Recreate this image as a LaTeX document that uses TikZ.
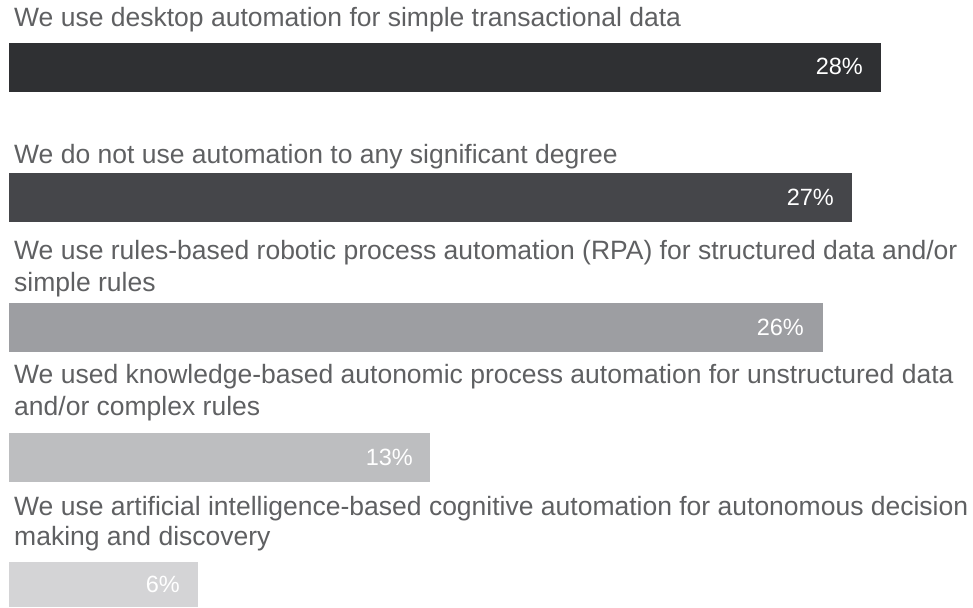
\documentclass[tikz,border=0pt]{standalone}
\usepackage{fontspec}
\setmainfont{Liberation Sans}
\definecolor{labelgray}{HTML}{5F6062}
\definecolor{barA}{HTML}{2F3033}
\definecolor{barB}{HTML}{45464A}
\definecolor{barC}{HTML}{9D9EA2}
\definecolor{barD}{HTML}{BDBEC0}
\definecolor{barE}{HTML}{D4D4D6}
\begin{document}
\begin{tikzpicture}[x=1pt,y=-1pt,
  caption/.style={anchor=base west,inner sep=0pt,text=labelgray,font=\fontsize{26.5}{32}\selectfont},
  pct/.style={anchor=base east,inner sep=0pt,text=white,font=\fontsize{23.5}{28}\selectfont}]
\useasboundingbox (0,0) rectangle (973,607);

% bar 1
\node[caption] (t1) at (14,27) {We use desktop automation for simple transactional data};
\fill[barA] (9,43) rectangle (881,92);
\node[pct] (p1) at (863,75) {28\%};

% bar 2
\node[caption] (t2) at (14,163) {We do not use automation to any significant degree};
\fill[barB] (9,173) rectangle (852,222);
\node[pct] (p2) at (834,205) {27\%};

% bar 3
\node[caption] (t3a) at (14,259) {We use rules-based robotic process automation (RPA) for structured data and/or};
\node[caption] (t3b) at (14,291) {simple rules};
\fill[barC] (9,303) rectangle (823,352);
\node[pct] (p3) at (804,335) {26\%};

% bar 4
\node[caption] (t4a) at (14,383) {We used knowledge-based autonomic process automation for unstructured data};
\node[caption] (t4b) at (14,415) {and/or complex rules};
\fill[barD] (9,433) rectangle (430,482);
\node[pct] (p4) at (413,465) {13\%};

% bar 5
\node[caption] (t5a) at (14,515) {We use artificial intelligence-based cognitive automation for autonomous decision};
\node[caption] (t5b) at (14,545) {making and discovery};
\fill[barE] (9,562) rectangle (198,607);
\node[pct] (p5) at (180,592) {6\%};
\end{tikzpicture}
\end{document}
